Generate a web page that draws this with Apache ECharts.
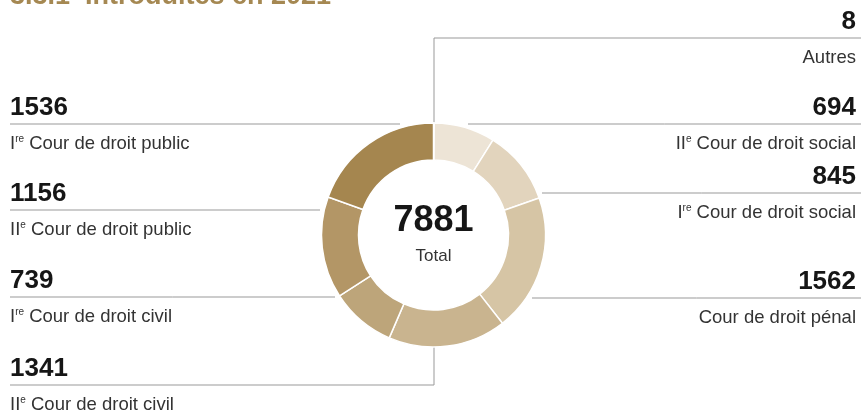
<!DOCTYPE html>
<html>
<head>
<meta charset="utf-8">
<script src="https://cdn.jsdelivr.net/npm/echarts@6/dist/echarts.min.js"></script>
<style>
html, body { margin: 0; padding: 0; background: #fff; }
#main { width: 861px; height: 412px; }
</style>
</head>
<body>
<div id="main"></div>
<script>
// affaires introduites en 2021, par cour (dans le sens des aiguilles d'une montre depuis midi)
var cours = ['Autres', 'IIe Cour de droit social', 'Ire Cour de droit social', 'Cour de droit pénal',
             'IIe Cour de droit civil', 'Ire Cour de droit civil', 'IIe Cour de droit public', 'Ire Cour de droit public'];
var affaires = [8, 694, 845, 1562, 1341, 739, 1156, 1536];
var couleurs = ['#f2ece2', '#ede4d6', '#e2d4bd', '#d6c5a5', '#c9b48f', '#bda57a', '#b39666', '#a5864f'];

// position des étiquettes : côté, hauteur du trait, début du trait (et coude éventuel)
var reperes = [
    {cote: 'd', y: 38, x0: 434, coude: 123},
    {cote: 'd', y: 124, x0: 468},
    {cote: 'd', y: 193, x0: 542},
    {cote: 'd', y: 298, x0: 532},
    {cote: 'g', y: 385, x0: 434, coude: 347},
    {cote: 'g', y: 297, x0: 335},
    {cote: 'g', y: 210, x0: 320},
    {cote: 'g', y: 124, x0: 400}
];

var total = affaires.reduce(function (a, b) { return a + b; }, 0);
var police = '"Liberation Sans", Arial, Helvetica, sans-serif';

var myChart = echarts.init(document.getElementById('main'));

var donnees = cours.map(function (nom, i) {
    return {name: nom, value: affaires[i], itemStyle: {color: couleurs[i]}};
});

var opt = {
    animation: false,
    graphic: [
        {   // titre, coupé en haut comme sur l'original
            type: 'text', left: 10, top: -17,
            style: {text: '3.3.1  Introduites en 2021', fontSize: 27, fontWeight: 'bold',
                    fill: '#a58852', fontFamily: police}
        },
        {
            type: 'text', x: 433.5, y: 221,
            style: {text: String(total), fontSize: 36, fontWeight: 'bold', fill: '#161616',
                    fontFamily: police, align: 'center', verticalAlign: 'middle'}
        },
        {
            type: 'text', x: 433.5, y: 256,
            style: {text: 'Total', fontSize: 17, fill: '#333', fontFamily: police,
                    align: 'center', verticalAlign: 'middle'}
        }
    ],
    series: [
        {
            type: 'pie',
            center: [433.5, 235],
            radius: [75, 112],
            startAngle: 90,
            clockwise: true,
            avoidLabelOverlap: false,
            itemStyle: {borderColor: '#fff', borderWidth: 1.5},
            label: {
                show: true,
                position: 'outside',
                fontFamily: police,
                formatter: function (p) {
                    var m = p.name.match(/^(I+)(re|e) (.*)$/);
                    var nom = m ? '{n|' + m[1] + '}{s|' + m[2] + '}{n| ' + m[3] + '}' : '{n|' + p.name + '}';
                    return '{v|' + p.value + '}\n' + nom;
                },
                rich: {
                    v: {fontSize: 26, fontWeight: 'bold', color: '#161616', lineHeight: 52, fontFamily: police},
                    n: {fontSize: 18.5, color: '#333', lineHeight: 20, fontFamily: police},
                    s: {fontSize: 10, color: '#333', verticalAlign: 'top', fontFamily: police}
                }
            },
            labelLine: {
                show: true,
                lineStyle: {color: '#999', width: 1}
            },
            labelLayout: function (p) {
                var r = reperes[p.dataIndex];
                var droite = r.cote === 'd';
                var xb = droite ? 861 : 10;
                var pts = r.coude
                    ? [[r.x0, r.coude], [r.x0, r.y], [xb, r.y]]
                    : [[r.x0, r.y], [(r.x0 + xb) / 2, r.y], [xb, r.y]];
                return {
                    x: droite ? 856 : 10,
                    y: r.y - 42,
                    align: droite ? 'right' : 'left',
                    verticalAlign: 'top',
                    labelLinePoints: pts
                };
            },
            data: donnees
        }
    ]
};
myChart.setOption(opt);
</script>
</body>
</html>
